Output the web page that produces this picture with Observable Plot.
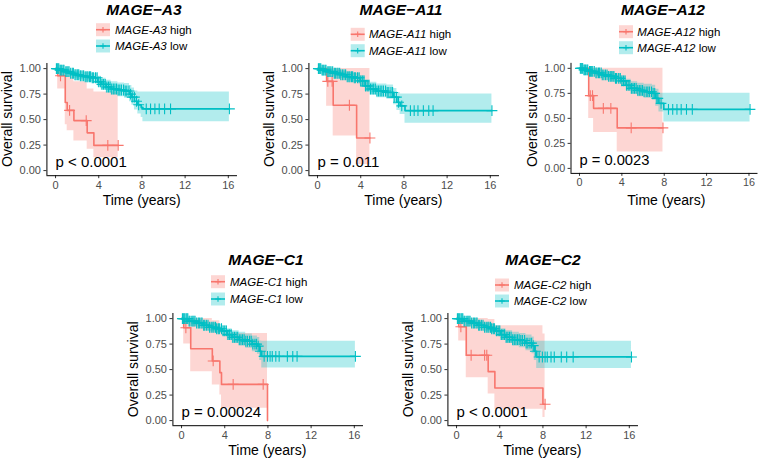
<!DOCTYPE html>
<html><head><meta charset="utf-8">
<script src="https://cdn.jsdelivr.net/npm/d3@7"></script>
<script src="https://cdn.jsdelivr.net/npm/@observablehq/plot@0.6"></script>
<style>
html,body{margin:0;padding:0;background:#fff;overflow:hidden;}
#root{position:relative;width:762px;height:460px;overflow:hidden;font-family:"Liberation Sans",Arial,sans-serif;}
.panel{position:absolute;}
#overlay{position:absolute;left:0;top:0;}
</style></head><body><div id="root"></div>
<script>
// ---------- data ----------
const genes = ["MAGE-A3", "MAGE-A11", "MAGE-A12", "MAGE-C1", "MAGE-C2"];
const pvalues = ["p < 0.0001", "p = 0.011", "p = 0.0023", "p = 0.00024", "p < 0.0001"];
const xTicks = [0, 4, 8, 12, 16];
const yTicks = [0, 0.25, 0.5, 0.75, 1];

// rows: [time, survival, lower CI, upper CI]
const A3_high = [[0,1,1,1],[0.2,0.93,0.8,1],[0.9,0.668,0.45,0.97],[1.08,0.59,0.39,0.92],[1.7,0.49,0.29,0.87],[2.93,0.37,0.21,0.8],[3.55,0.247,0.125,0.77],[5.8,0.247,0.125,0.77]];
const A3_low = [[0,1,1,1],[0.37,0.985,0.96,1],[0.83,0.97,0.945,0.995],[1.3,0.955,0.925,0.985],[1.76,0.94,0.905,0.975],[2.22,0.93,0.89,0.97],[2.69,0.92,0.875,0.96],[3.3,0.91,0.865,0.955],[3.92,0.87,0.82,0.925],[4.23,0.845,0.79,0.905],[4.69,0.82,0.76,0.885],[5.15,0.8,0.74,0.87],[5.77,0.79,0.725,0.86],[6.39,0.78,0.71,0.855],[6.85,0.75,0.675,0.835],[7.07,0.72,0.64,0.81],[7.31,0.68,0.595,0.78],[7.62,0.645,0.555,0.77],[7.93,0.62,0.52,0.77],[8.09,0.605,0.48,0.77],[16.1,0.605,0.48,0.77]];
const A11_high = [[0,1,1,1],[0.84,0.875,0.63,1],[1.45,0.64,0.34,1],[3.62,0.32,0.06,1],[4.85,0.32,0.06,1]];
const A11_low = [[0,1,1,1],[0.4,0.985,0.96,1],[0.86,0.97,0.945,0.995],[1.48,0.954,0.925,0.985],[2.1,0.94,0.905,0.975],[2.72,0.92,0.88,0.96],[3.33,0.91,0.865,0.955],[3.95,0.88,0.83,0.93],[4.41,0.83,0.775,0.89],[4.88,0.8,0.74,0.865],[5.49,0.78,0.715,0.85],[6.42,0.766,0.7,0.84],[7.04,0.72,0.645,0.805],[7.35,0.67,0.59,0.765],[7.65,0.635,0.55,0.75],[8.1,0.588,0.464,0.75],[16.15,0.588,0.464,0.75]];
const A12_high = [[0,1,1,1],[0.87,0.727,0.5,1],[1.33,0.6,0.36,1],[3.56,0.405,0.165,1],[7.88,0.405,0.165,1]];
const A12_low = [[0,1,1,1],[0.4,0.985,0.96,1],[0.86,0.97,0.945,0.995],[1.5,0.954,0.925,0.985],[2.1,0.935,0.9,0.97],[2.72,0.92,0.88,0.96],[3.33,0.9,0.855,0.945],[3.95,0.875,0.825,0.925],[4.41,0.83,0.775,0.89],[4.88,0.8,0.74,0.865],[5.49,0.78,0.715,0.85],[6.1,0.766,0.7,0.84],[6.88,0.75,0.68,0.83],[7.19,0.7,0.62,0.79],[7.5,0.65,0.565,0.75],[7.96,0.59,0.464,0.75],[16.1,0.59,0.464,0.75]];
const C1_high = [[0,1,1,1],[0.2,0.91,0.75,1],[0.85,0.705,0.48,1],[2.85,0.585,0.35,0.98],[3.55,0.47,0.25,0.9],[3.7,0.355,0.12,0.855],[7.96,0,0,0]];
const C1_low = [[0,1,1,1],[0.68,0.975,0.955,0.995],[1.3,0.957,0.93,0.985],[1.92,0.935,0.9,0.97],[2.54,0.915,0.875,0.955],[3.16,0.9,0.855,0.945],[3.78,0.88,0.83,0.93],[4.24,0.843,0.785,0.9],[4.7,0.817,0.755,0.88],[5.33,0.794,0.73,0.865],[5.94,0.778,0.71,0.85],[6.56,0.75,0.675,0.83],[7.03,0.73,0.65,0.815],[7.24,0.68,0.59,0.78],[7.43,0.63,0.516,0.778],[16.1,0.63,0.516,0.778]];
const C2_high = [[0,1,1,1],[0.2,0.92,0.78,1],[0.9,0.64,0.42,1],[2.93,0.48,0.26,0.99],[3.55,0.32,0.11,0.93],[8.0,0.16,0.03,0.85],[8.2,0.16,0.03,0.85]];
const C2_low = [[0,1,1,1],[0.68,0.975,0.955,0.995],[1.3,0.957,0.93,0.985],[1.93,0.935,0.9,0.97],[2.55,0.915,0.875,0.955],[3.17,0.9,0.855,0.945],[3.63,0.88,0.83,0.93],[4.1,0.843,0.785,0.9],[4.57,0.817,0.755,0.88],[5.19,0.794,0.73,0.865],[5.81,0.785,0.715,0.855],[6.43,0.76,0.685,0.84],[6.99,0.735,0.655,0.82],[7.2,0.68,0.59,0.78],[7.42,0.624,0.51,0.778],[16.2,0.624,0.51,0.778]];

// censor times
const A3_highCensor = [0.46, 1.3, 2.84, 4.84, 5.8];
const A11_highCensor = [0.95, 1.35, 2.95, 4.85];
const A12_highCensor = [1.02, 1.23, 2.25, 2.96, 4.88, 7.88];
const C1_highCensor = [0.4, 2.93, 4.78, 7.56];
const C2_highCensor = [0.4, 1.35, 2.6, 2.8, 8.2];
const lowCensorEarly = [0.08,0.15,0.22,0.3,0.42,0.5,0.58,0.7,0.78,0.95,1.05,1.15,1.25,1.4,1.55,1.65,1.8,1.9,2.05,2.15,2.3,2.45,2.6,2.75,2.9,3.0,3.15,3.25,3.4,3.5,3.7,3.85,4.0,4.15,4.3,4.45,4.6,4.75,4.9,5.05,5.2,5.35,5.5,5.65,5.8,5.95,6.1,6.3,6.45,6.6,6.8,6.95,7.1,7.3];
const A3_lowCensorLate = [7.5, 7.7, 8.4, 8.8, 9.2, 9.6, 10.1, 10.65, 16.1];
const A11_lowCensorLate = [7.5, 7.8, 8.6, 8.95, 9.3, 9.8, 10.3, 10.7, 16.15];
const A12_lowCensorLate = [7.4, 7.7, 8.4, 8.8, 9.2, 9.6, 10.1, 10.65, 16.1];
const C1_lowCensorLate = [7.65, 7.96, 8.2, 8.4, 8.73, 9.04, 9.8, 10.3, 10.7, 16.1];
const C2_lowCensorLate = [7.65, 7.95, 8.2, 8.4, 8.75, 9.05, 9.7, 10.2, 10.8, 16.2];

// ---------- drawing ----------
const RED = "#F8766D", TEAL = "#00BFC4";
const FONT = "'Liberation Sans', Arial, Helvetica, sans-serif";
const root = document.getElementById("root");

const panels = [
  {high: A3_high, low: A3_low, hc: A3_highCensor, lc: A3_lowCensorLate, ax: 46.4, top: 63, tX: 144, tY: 14.5, kX: 96, rows: [29.7, 46], txX: 115},
  {high: A11_high, low: A11_low, hc: A11_highCensor, lc: A11_lowCensorLate, ax: 308, top: 63, tX: 401, tY: 14.5, kX: 350.7, rows: [34.3, 50.7], txX: 369},
  {high: A12_high, low: A12_low, hc: A12_highCensor, lc: A12_lowCensorLate, ax: 571, top: 63, tX: 663, tY: 14.5, kX: 619, rows: [31.7, 47.7], txX: 637.3},
  {high: C1_high, low: C1_low, hc: C1_highCensor, lc: C1_lowCensorLate, ax: 172, top: 313.2, tX: 266, tY: 264.5, kX: 211, rows: [281.7, 299], txX: 230},
  {high: C2_high, low: C2_low, hc: C2_highCensor, lc: C2_lowCensorLate, ax: 447, top: 313.2, tX: 543, tY: 264.5, kX: 495, rows: [285, 301], txX: 514}
];

function survAt(rows, t) {
  let s = rows[0][1];
  for (const r of rows) if (r[0] <= t) s = r[1];
  return s;
}

const ML = 46.4, MR = 5, MT = 8, MB = 25, PW = 190.6, PH = 112.2;

panels.forEach((p, i) => {
  const lowC = lowCensorEarly.concat(p.lc);
  const svg = Plot.plot({
    width: ML + PW + MR, height: MT + PH + MB,
    marginLeft: ML, marginRight: MR, marginTop: MT, marginBottom: MB,
    x: {domain: [-0.8, 16.85]},
    y: {domain: [-0.05, 1.05]},
    style: {fontFamily: FONT, fontSize: "11px", color: "#4d4d4d", background: "transparent", overflow: "visible"},
    marks: [
      Plot.areaY(p.high, {x: d => d[0], y1: d => d[2], y2: d => d[3], curve: "step-after", fill: RED, fillOpacity: 0.3}),
      Plot.areaY(p.low, {x: d => d[0], y1: d => d[2], y2: d => d[3], curve: "step-after", fill: TEAL, fillOpacity: 0.3}),
      Plot.lineY(p.high, {x: d => d[0], y: d => d[1], curve: "step-after", stroke: RED, strokeWidth: 1.6}),
      Plot.lineY(p.low, {x: d => d[0], y: d => d[1], curve: "step-after", stroke: TEAL, strokeWidth: 1.7}),
      Plot.dot(p.hc, {x: t => t, y: t => survAt(p.high, t), symbol: "plus", r: 3.6, stroke: RED, strokeWidth: 1.1}),
      Plot.dot(lowC, {x: t => t, y: t => survAt(p.low, t), symbol: "plus", r: 3.6, stroke: TEAL, strokeWidth: 1.1}),
      Plot.text([pvalues[i]], {x: () => 0, y: () => 0.08, text: d => d, textAnchor: "start", fontSize: 15, fill: "black"}),
      Plot.axisX({ticks: xTicks, tickSize: 3, tickPadding: 2.5, label: null, stroke: "#333"}),
      Plot.axisY({ticks: yTicks, tickFormat: d3.format(".2f"), tickSize: 3, tickPadding: 3, label: null, stroke: "#333"}),
      Plot.ruleX([-0.8], {stroke: "black", strokeWidth: 1}),
      Plot.ruleY([-0.05], {stroke: "black", strokeWidth: 1})
    ]
  });
  const div = document.createElement("div");
  div.className = "panel";
  div.style.left = (p.ax - ML) + "px";
  div.style.top = (p.top - MT) + "px";
  div.appendChild(svg);
  root.appendChild(div);
});

// overlay: titles, legends, axis titles
const ov = d3.select(root).append("svg").attr("id", "overlay")
  .attr("width", 762).attr("height", 460)
  .style("font-family", FONT).style("pointer-events", "none");

function plusPath(cx, cy, a) {
  return `M${cx - a},${cy}H${cx + a}M${cx},${cy - a}V${cy + a}`;
}

panels.forEach((p, i) => {
  const g = genes[i];
  const titleText = g.replace("-", "\u2212");
  ov.append("text").attr("x", p.tX).attr("y", p.tY).attr("text-anchor", "middle")
    .attr("font-size", 15.5).attr("font-weight", "bold").attr("font-style", "italic").attr("fill", "black")
    .text(titleText);
  const groups = [["high", RED], ["low", TEAL]];
  groups.forEach(([lab, col], j) => {
    const cy = p.rows[j];
    ov.append("rect").attr("x", p.kX).attr("y", cy - 6.5).attr("width", 14).attr("height", 13)
      .attr("fill", col).attr("fill-opacity", 0.3);
    ov.append("line").attr("x1", p.kX).attr("x2", p.kX + 14).attr("y1", cy).attr("y2", cy)
      .attr("stroke", col).attr("stroke-width", 1.6);
    ov.append("path").attr("d", plusPath(p.kX + 7, cy, 2.8)).attr("stroke", col).attr("stroke-width", 1.1).attr("fill", "none");
    const t = ov.append("text").attr("x", p.txX).attr("y", cy + 4.1).attr("font-size", 11.5).attr("fill", "black");
    t.append("tspan").attr("font-style", "italic").text(g);
    t.append("tspan").text(" " + lab);
  });
  const yMid = p.top + PH / 2;
  ov.append("text").attr("transform", `translate(${p.ax - 34},${yMid}) rotate(-90)`)
    .attr("text-anchor", "middle").attr("font-size", 14).attr("fill", "black").text("Overall survival");
  ov.append("text").attr("x", p.ax + PW / 2).attr("y", p.top + PH + 30)
    .attr("text-anchor", "middle").attr("font-size", 14).attr("fill", "black").text("Time (years)");
});
</script></body></html>
